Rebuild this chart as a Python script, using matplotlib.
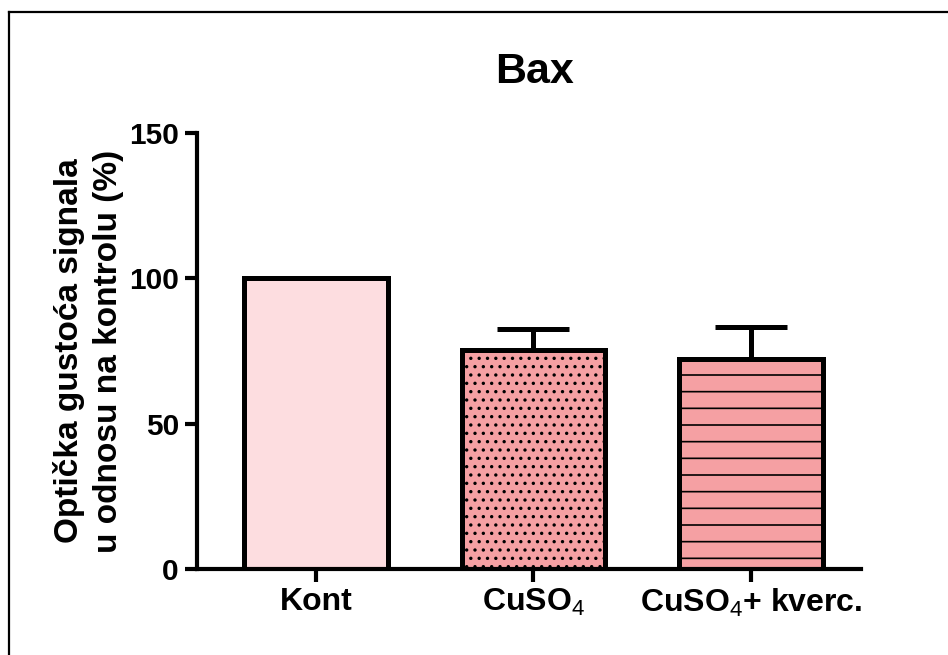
import matplotlib
matplotlib.use("Agg")
import matplotlib.pyplot as plt
from matplotlib.lines import Line2D

categories = ["Kont", "CuSO$_4$", "CuSO$_4$+ kverc."]
values = [100.0, 75.4, 72.2]
err_upper = [0.0, 7.2, 11.0]
fills = ["#FDDDE0", "#F5A0A3", "#F5A0A3"]
hatches = ["", "..", "-"]
yticks = [0, 50, 100, 150]
title = "Bax"
ylabel = "Optička gustoća signala\nu odnosu na kontrolu (%)"

plt.rcParams['font.family'] = ['Liberation Sans', 'DejaVu Sans']
plt.rcParams['hatch.linewidth'] = 1.2
plt.rcParams['mathtext.fontset'] = 'custom'
plt.rcParams['mathtext.rm'] = 'Liberation Sans'
plt.rcParams['mathtext.it'] = 'Liberation Sans'
plt.rcParams['mathtext.bf'] = 'Liberation Sans:bold'

DPI = 100
fig = plt.figure(figsize=(948 / DPI, 655 / DPI), dpi=DPI)
ax = fig.add_axes([197 / 948, 1 - 569 / 655, (861 - 197) / 948, (569 - 133) / 655])

x = list(range(len(categories)))
bars = ax.bar(x, values, width=0.66, color=fills, edgecolor="black", linewidth=3.6, zorder=2)
for b, h in zip(bars, hatches):
    b.set_hatch(h)

ax.errorbar(x, values, yerr=[[0] * len(values), err_upper], fmt="none", ecolor="black",
            elinewidth=3.6, capsize=26, capthick=3.6, zorder=1)

ax.set_xlim(-0.547, 2.506)
ax.set_ylim(0, 150)
ax.set_yticks(yticks)
ax.set_xticks(x)
ax.set_xticklabels(categories, fontsize=23, fontweight="bold")
for lab in ax.get_yticklabels():
    lab.set_fontsize(21.5)
    lab.set_fontweight("bold")

for s in ["top", "right"]:
    ax.spines[s].set_visible(False)
for s in ["left", "bottom"]:
    ax.spines[s].set_linewidth(3.0)
ax.tick_params(axis="both", width=3.0, length=9, pad=4)

ax.set_title(title, fontsize=31, fontweight="bold", pad=36, x=0.509)
ax.set_ylabel(ylabel, fontsize=24, fontweight="bold", labelpad=4, linespacing=1.3)

fig.add_artist(Line2D([9 / 948, 9 / 948], [0, 1 - 12 / 655], color="black", linewidth=1.6, transform=fig.transFigure))
fig.add_artist(Line2D([9 / 948, 1], [1 - 12 / 655, 1 - 12 / 655], color="black", linewidth=1.6, transform=fig.transFigure))

fig.savefig("out.png", dpi=DPI)
